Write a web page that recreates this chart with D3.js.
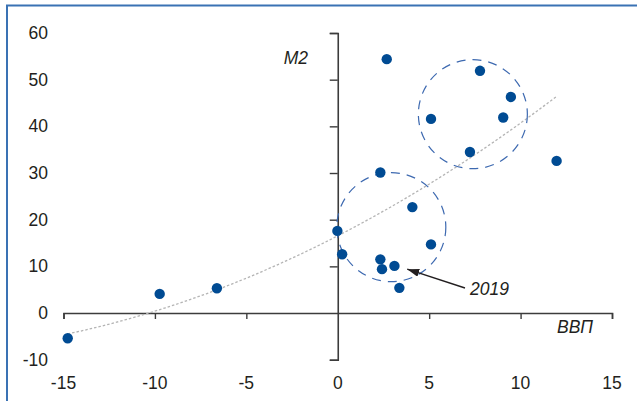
<!DOCTYPE html>
<html>
<head>
<meta charset="utf-8">
<script src="https://cdn.jsdelivr.net/npm/d3@7"></script>
<style>
  html, body { margin: 0; padding: 0; background: #fff; }
  svg { display: block; }
  text { font-family: "Liberation Sans", Arial, sans-serif; fill: #231f20; }
</style>
</head>
<body>
<svg id="chart" width="637" height="401"></svg>
<script>
// Growth of GDP (ВВП) vs growth of M2, per cent
const gdp = [2.68, 7.78, 9.47, 5.10, 9.05, 7.23, 11.97, 2.33, 4.08, -0.02, 5.10, 0.24, 2.33, 2.42, 3.10, 3.37, -9.74, -6.61, -14.77];
const m2  = [54.4, 51.9, 46.3, 41.6, 41.9, 34.5, 32.6, 30.1, 22.7, 17.6, 14.7, 12.6, 11.5, 9.4, 10.1, 5.4, 4.1, 5.3, -5.4];

const xTicks = [-15, -10, -5, 0, 5, 10, 15];
const yTicks = [-10, 0, 10, 20, 30, 40, 50, 60];

// Dashed cluster rings: centres in data units
const clusterCentres = [[7.39, 42.6], [2.93, 18.4]];
// Annotation
const noteLabel = "2019";
const notePoint = [3.8, 9.4];

const W = 637, H = 401;
const svg = d3.select("#chart");

const x = d3.scaleLinear().domain([-15, 15]).range([63.5, 612]);
const y = d3.scaleLinear().domain([-10, 60]).range([359.7, 33]);

// frame
svg.append("path")
  .attr("d", `M7,${H + 5} V5.5 H${W + 5}`)
  .attr("fill", "none")
  .attr("stroke", "#3a72b4")
  .attr("stroke-width", 2);

const axisColor = "#3c3c3c";

// X axis along y = 0
const gx = svg.append("g").attr("transform", `translate(0,${y(0)})`)
  .call(d3.axisBottom(x).tickValues(xTicks).tickSize(6).tickFormat(() => ""));
gx.select(".domain").attr("stroke", axisColor).attr("stroke-width", 1.6);
gx.selectAll(".tick line").attr("stroke", axisColor).attr("stroke-width", 1.4);
gx.selectAll(".tick").filter(d => d === 0).select("line").remove();

// X tick labels at the bottom
svg.append("g").selectAll("text").data(xTicks).join("text")
  .attr("x", d => x(d))
  .attr("y", 383)
  .attr("dy", "0.35em")
  .attr("text-anchor", "middle")
  .attr("font-size", 17.5)
  .text(d => d);

// Y axis along x = 0
const gy = svg.append("g").attr("transform", `translate(${x(0)},0)`)
  .call(d3.axisLeft(y).tickValues(yTicks).tickSize(8).tickFormat(() => ""));
gy.select(".domain").attr("stroke", axisColor).attr("stroke-width", 1.6);
gy.selectAll(".tick line").attr("stroke", axisColor).attr("stroke-width", 1.4);
gy.selectAll(".tick").filter(d => d === 0).select("line").remove();

// Y tick labels at the left
svg.append("g").selectAll("text").data(yTicks).join("text")
  .attr("x", 48)
  .attr("y", d => y(d))
  .attr("dy", "0.35em")
  .attr("text-anchor", "end")
  .attr("font-size", 17.5)
  .text(d => d);

// Axis titles
svg.append("text").attr("x", 308).attr("y", 58).attr("dy", "0.35em")
  .attr("text-anchor", "end").attr("font-style", "italic").attr("font-size", 17.5)
  .text("M2");
svg.append("text").attr("x", 593).attr("y", 327).attr("dy", "0.35em")
  .attr("text-anchor", "end").attr("font-style", "italic").attr("font-size", 17.5)
  .text("ВВП");

// Quadratic least-squares trend
function quadFit(xs, ys) {
  const n = xs.length;
  let s = [0, 0, 0, 0, 0], t = [0, 0, 0];
  for (let i = 0; i < n; i++) {
    const xi = xs[i], yi = ys[i];
    let p = 1;
    for (let k = 0; k < 5; k++) { s[k] += p; if (k < 3) t[k] += p * yi; p *= xi; }
  }
  const A = [[s[0], s[1], s[2], t[0]], [s[1], s[2], s[3], t[1]], [s[2], s[3], s[4], t[2]]];
  for (let i = 0; i < 3; i++) {
    for (let j = i + 1; j < 3; j++) {
      const f = A[j][i] / A[i][i];
      for (let k = i; k < 4; k++) A[j][k] -= f * A[i][k];
    }
  }
  const c = [0, 0, 0];
  for (let i = 2; i >= 0; i--) {
    let v = A[i][3];
    for (let k = i + 1; k < 3; k++) v -= A[i][k] * c[k];
    c[i] = v / A[i][i];
  }
  return c;
}
const coef = quadFit(gdp, m2);
const [xMin, xMax] = d3.extent(gdp);
const trend = d3.range(0, 61).map(i => {
  const xv = xMin + (xMax - xMin) * i / 60;
  return [xv, coef[0] + coef[1] * xv + coef[2] * xv * xv];
});
svg.append("path")
  .datum(trend)
  .attr("fill", "none")
  .attr("stroke", "#b4b4b4")
  .attr("stroke-width", 1.3)
  .attr("stroke-dasharray", "2.5,2")
  .attr("d", d3.line().x(d => x(d[0])).y(d => y(d[1])));

// Dashed cluster rings
svg.append("g").selectAll("circle").data(clusterCentres).join("circle")
  .attr("cx", d => x(d[0]))
  .attr("cy", d => y(d[1]))
  .attr("r", 54.5)
  .attr("fill", "none")
  .attr("stroke", "#3d69b0")
  .attr("stroke-width", 1.2)
  .attr("stroke-dasharray", "9,7");

// Points
svg.append("g").selectAll("circle").data(gdp.map((g, i) => [g, m2[i]])).join("circle")
  .attr("cx", d => x(d[0]))
  .attr("cy", d => y(d[1]))
  .attr("r", 5.2)
  .attr("fill", "#004b93");

// Arrow annotation
const defs = svg.append("defs");
defs.append("marker")
  .attr("id", "head")
  .attr("viewBox", "0 0 12 8")
  .attr("refX", 12).attr("refY", 4)
  .attr("markerWidth", 12).attr("markerHeight", 8)
  .attr("markerUnits", "userSpaceOnUse")
  .attr("orient", "auto")
  .append("path").attr("d", "M0,0 L12,4 L0,8 Z").attr("fill", "#231f20");

svg.append("line")
  .attr("x1", 465).attr("y1", 288)
  .attr("x2", x(notePoint[0])).attr("y2", y(notePoint[1]))
  .attr("stroke", "#231f20")
  .attr("stroke-width", 1.4)
  .attr("marker-end", "url(#head)");

svg.append("text").attr("x", 470).attr("y", 289).attr("dy", "0.35em")
  .attr("font-style", "italic").attr("font-size", 17.5)
  .text(noteLabel);
</script>
</body>
</html>
